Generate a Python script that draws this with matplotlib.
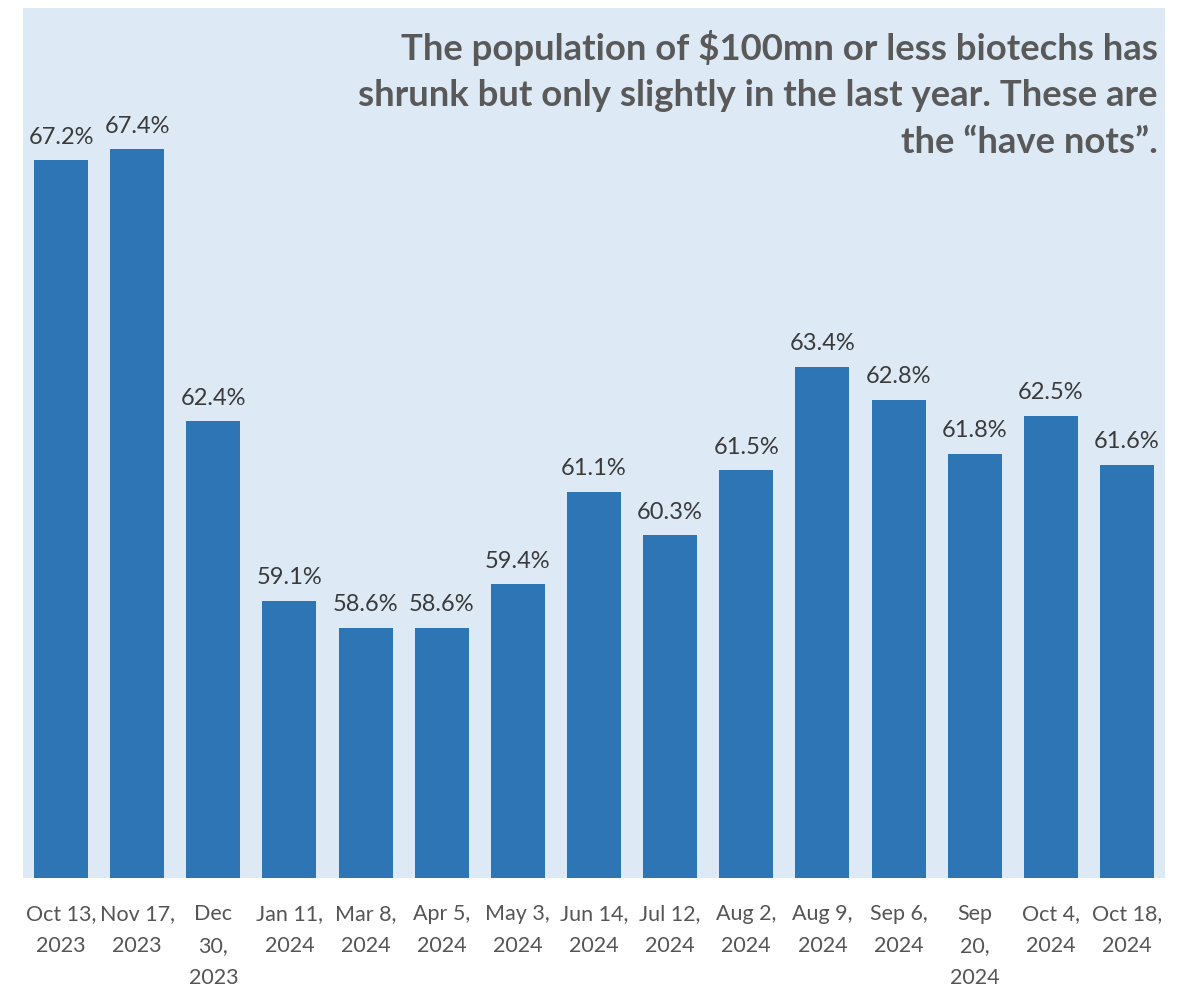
import matplotlib
matplotlib.use("Agg")
import matplotlib.pyplot as plt

categories = ["Oct 13,\n2023", "Nov 17,\n2023", "Dec\n30,\n2023", "Jan 11,\n2024",
              "Mar 8,\n2024", "Apr 5,\n2024", "May 3,\n2024", "Jun 14,\n2024",
              "Jul 12,\n2024", "Aug 2,\n2024", "Aug 9,\n2024", "Sep 6,\n2024",
              "Sep\n20,\n2024", "Oct 4,\n2024", "Oct 18,\n2024"]
values = [67.2, 67.4, 62.4, 59.1, 58.6, 58.6, 59.4, 61.1, 60.3, 61.5, 63.4, 62.8, 61.8, 62.5, 61.6]
title = ("The population of $100mn or less biotechs has\n"
         "shrunk but only slightly in the last year. These are\n"
         "the \u201chave nots\u201d.")

bar_color = "#2e75b6"
bg_color = "#ddeaf6"
label_font = ["Lato", "DejaVu Sans"]

fig = plt.figure(figsize=(11.93, 9.88), dpi=100)
ax = fig.add_axes([23 / 1193, 1 - 878 / 988, (1165 - 23) / 1193, (878 - 8) / 988])
ax.set_facecolor(bg_color)

x = list(range(len(values)))
ax.bar(x, values, width=0.71, color=bar_color, zorder=2)
ax.set_ylim(54, 70)
ax.set_xlim(-0.5, len(values) - 0.5)

for xi, v in zip(x, values):
    ax.annotate(f"{v:.1f}%", (xi, v), xytext=(0, 9), textcoords="offset points",
                ha="center", va="bottom", fontsize=17, color="#3a3a3a",
                family=label_font, fontweight="normal")

ax.set_xticks(x)
ax.set_xticklabels(categories, fontsize=15.5, color="#555555", family=label_font,
                   linespacing=1.75, va="top")
ax.tick_params(axis="x", length=0, pad=19)
ax.set_yticks([])
for s in ax.spines.values():
    s.set_visible(False)

fig.text(1158 / 1193, 1 - 30 / 988, title, ha="right", va="top",
         fontsize=26.3, fontweight="bold", color="#595959", linespacing=1.5,
         family=["Lato", "DejaVu Sans"])

fig.savefig("out.png", dpi=100)
